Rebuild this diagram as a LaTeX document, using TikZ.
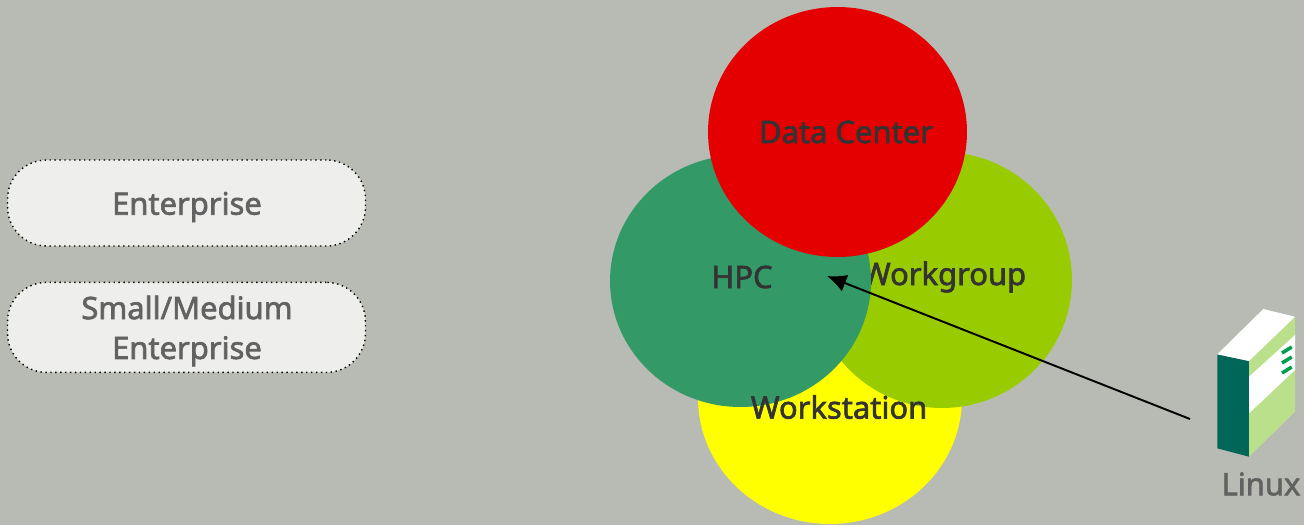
\documentclass[tikz,border=0pt]{standalone}
\usepackage{fontspec}
\setmainfont[FakeBold=2]{Noto Sans}
\usepackage{xcolor}
\definecolor{backdrop}{HTML}{B8BBB3}
\definecolor{boxfill}{HTML}{EEEEEC}
\definecolor{greytext}{HTML}{626262}
\definecolor{darktext}{HTML}{333333}
\definecolor{red}{HTML}{E40000}
\definecolor{hpcgreen}{HTML}{339966}
\definecolor{lime}{HTML}{99CC00}
\definecolor{yellow}{HTML}{FFFF00}
\definecolor{teal}{HTML}{006659}
\definecolor{palegreen}{HTML}{BBE08C}
\definecolor{stripe}{HTML}{009E4F}
\usetikzlibrary{positioning,shapes.geometric}
\usetikzlibrary{arrows.meta}
\tikzset{>={Latex[length=11pt,width=10pt]}}
\tikzset{
  market/.style  ={ rectangle, draw=black, dotted, fill=boxfill,
                    thick, rounded corners=0.78cm, inner sep=0pt, minimum width=7.16cm },
  segment/.style ={ ellipse, inner sep=0pt },
  label/.style   ={ font=\fontsize{17.6}{22.7}\selectfont, align=center, text=darktext, inner sep=0pt },
  marketlabel/.style={ label, text=greytext },
  flow/.style={->, draw=black, line width=1.1pt}
}
\begin{document}
\begin{tikzpicture}[x=0.02cm,y=-0.02cm]

\fill[backdrop] (0,0) rectangle (1304,525);
\useasboundingbox (0,0) rectangle (1304,525);

\node[market, minimum height=1.72cm] (enterprise) at (186.5,203) {};
\node[market, minimum height=1.8cm] (sme) [below=0.7cm of enterprise] {};
\node[marketlabel] (enterpriselabel) at (187,207) {Enterprise};
\node[marketlabel] (smelabel) at (187,331) {Small/Medium\\Enterprise};

\node[segment, fill=yellow, minimum width=5.28cm, minimum height=5.04cm] (workstation) at (830,398) {};
\node[segment, fill=lime,   minimum width=5.2cm,  minimum height=5.12cm] (workgroup) at (942,280) {};
\node[label] (workgrouplabel) at (944,277) {Workgroup};
\node[segment, fill=hpcgreen, minimum width=5.22cm, minimum height=5.04cm] (hpc) at (740.5,281) {};
\node[segment, fill=red,    minimum width=5.18cm, minimum height=5cm] (datacenter) at (837.5,132) {};

\node[label] (datacenterlabel) at (846,132) {Data Center};
\node[label] (hpclabel) at (742,277) {HPC};
\node[label] (workstationlabel) at (839,407) {Workstation};

% server box
\fill[teal] (1217.3,354.3) -- (1249,361) -- (1249,456.7) -- (1217.3,448.3) -- cycle;
\fill[palegreen] (1249,361) -- (1295,316.7) -- (1295,411.7) -- (1249,456.7) -- cycle;
\fill[white] (1217.3,354.3) -- (1263.3,309) -- (1295,316.7) -- (1249,361) -- cycle;
\fill[white] (1249,376.7) -- (1295,335) -- (1295,370) -- (1249,413.3) -- cycle;
\draw[stripe, line width=2pt] (1282,353) -- (1291.7,347);
\draw[stripe, line width=2pt] (1282,363) -- (1291.7,357);
\draw[stripe, line width=2pt] (1282,373) -- (1291.7,367);

\node[marketlabel] (linux) at (1261,484) {Linux};

\coordinate (servertail) at (1190,419);
\coordinate (hpctip) at (827,276);
\draw[flow] (servertail) -- (hpctip);

\end{tikzpicture}
\end{document}
